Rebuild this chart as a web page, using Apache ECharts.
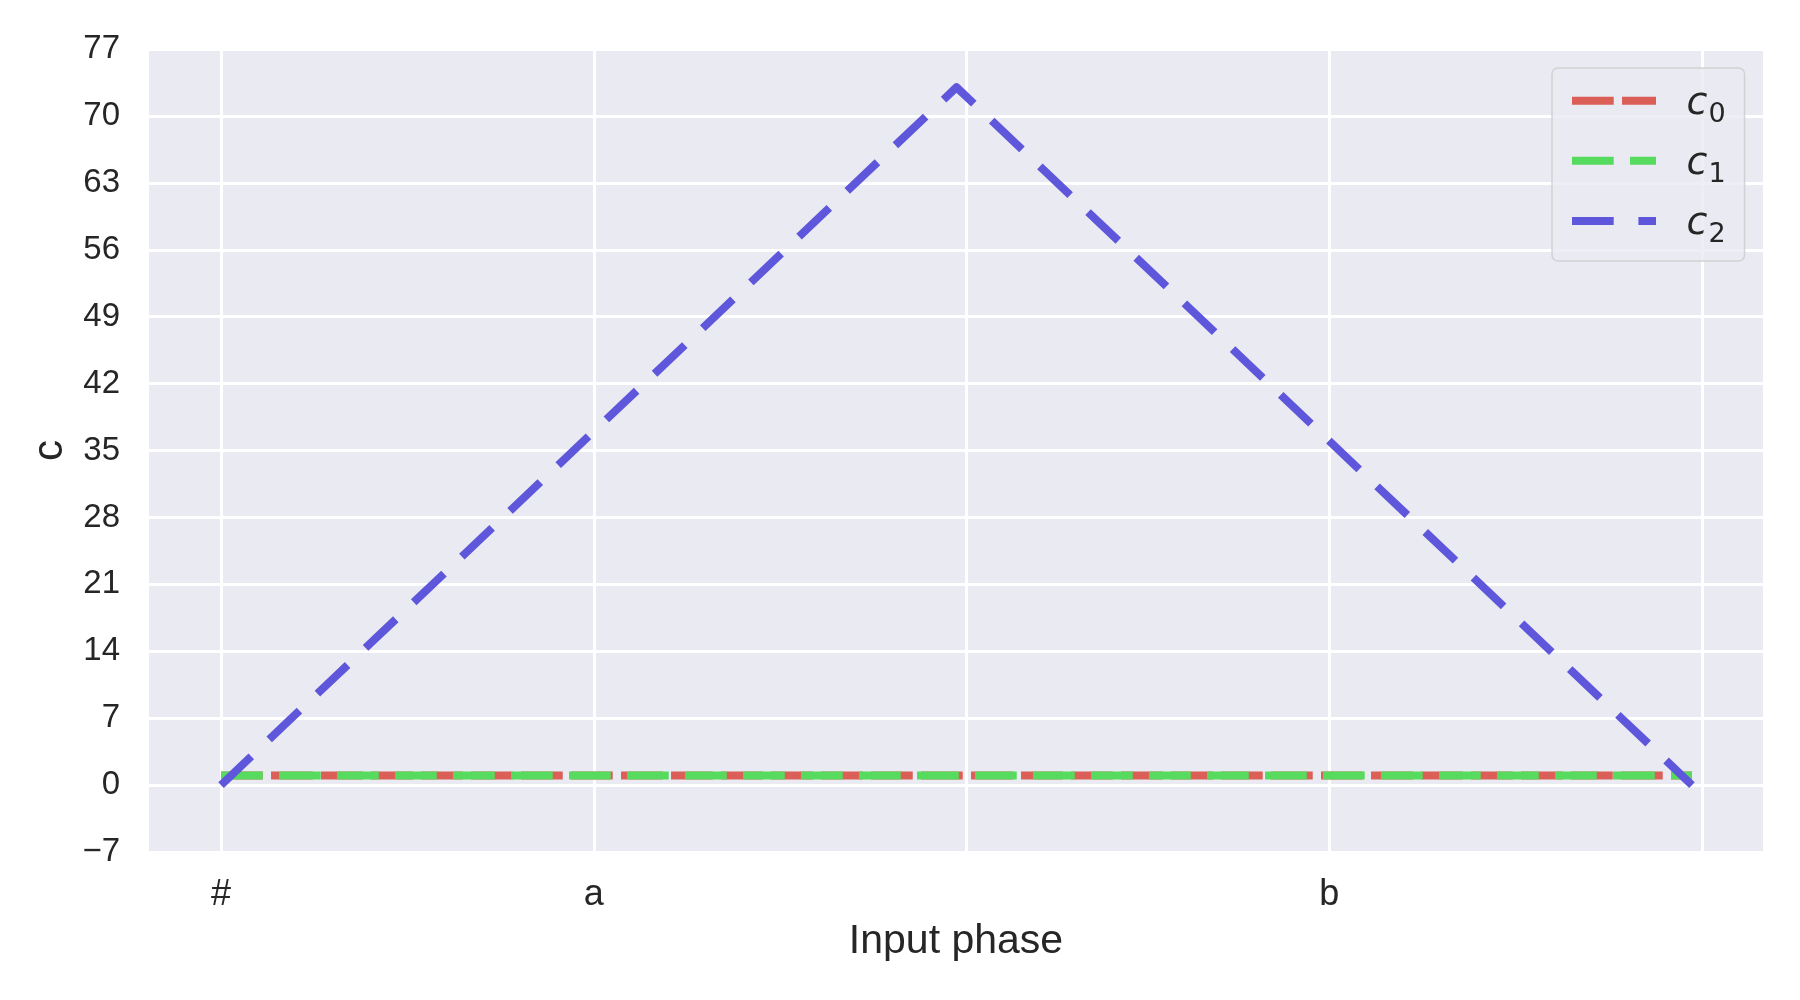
<!DOCTYPE html>
<html lang="en">

<head>
    <meta charset="UTF-8">
    <title>Input phase</title>
    <script src="https://cdn.jsdelivr.net/npm/echarts@6/dist/echarts.min.js"></script>
    <style>
        html, body { margin: 0; padding: 0; background: #fff; }
        #main { width: 1800px; height: 1000px; }
    </style>
</head>

<body>
    <div id="main"></div>
    <script>
        // data (line corners only, the lines are straight between them)
        var xValues = [0, 73, 146];
        var c0 = [1, 1, 1];
        var c1 = [1, 1, 1];
        var c2 = [0, 73, 0];

        var xTickValues = [0, 37, 74, 110, 147];
        var xTickLabels = ['#', 'a', '', 'b', ''];
        var seriesNames = ['c0', 'c1', 'c2'];
        var colors = ['#db5e57', '#57db5e', '#5e57db'];
        var dashes = [[41.7, 8.3], [41.7, 16.3], [41.7, 24.7]];

        var txt = '#262626';
        var fontName = "'Liberation Sans', Arial, sans-serif";

        function pairs(ys) {
            return xValues.map(function (x, i) {
                return [x, ys[i]];
            });
        }

        var myChart = echarts.init(document.getElementById('main'), null, { renderer: 'canvas' });

        var allData = [c0, c1, c2];
        var series = seriesNames.map(function (name, i) {
            return {
                name: name,
                type: 'line',
                data: pairs(allData[i]),
                symbol: 'none',
                z: 3 + i,
                color: colors[i],
                lineStyle: {
                    color: colors[i],
                    width: 8,
                    type: dashes[i],
                    cap: 'butt',
                    join: 'round'
                },
                emphasis: { disabled: true },
                animation: false
            };
        });

        var option = {
            backgroundColor: '#ffffff',
            animation: false,
            grid: {
                left: 149,
                right: 37,
                top: 49,
                bottom: 148,
                show: true,
                backgroundColor: '#eaeaf2',
                borderWidth: 0,
                containLabel: false
            },
            xAxis: {
                type: 'value',
                min: -7.15,
                max: 153.05,
                name: 'Input phase',
                nameLocation: 'middle',
                nameGap: 69,
                nameTextStyle: { color: txt, fontSize: 41, fontFamily: fontName },
                axisLine: { show: false },
                axisTick: { show: false, customValues: xTickValues },
                axisLabel: {
                    customValues: xTickValues,
                    margin: 25,
                    color: txt,
                    fontSize: 36,
                    fontFamily: fontName,
                    formatter: function (v) {
                        var k = xTickValues.indexOf(v);
                        return k >= 0 ? xTickLabels[k] : '';
                    }
                },
                splitLine: { show: true, lineStyle: { color: '#ffffff', width: 3 } }
            },
            yAxis: {
                type: 'value',
                min: -7,
                max: 77,
                interval: 7,
                name: 'c',
                nameLocation: 'middle',
                nameGap: 70,
                nameRotate: 90,
                nameTextStyle: { color: txt, fontSize: 42, fontFamily: fontName },
                axisLine: { show: false },
                axisTick: { show: false },
                axisLabel: {
                    margin: 29,
                    color: txt,
                    fontSize: 33,
                    fontFamily: fontName,
                    formatter: function (v) {
                        return String(v).replace('-', '\u2212');
                    }
                },
                splitLine: { show: true, lineStyle: { color: '#ffffff', width: 3 } }
            },
            legend: {
                orient: 'vertical',
                left: 1552,
                top: 68,
                padding: [16.3, 19, 12.6, 16],
                itemWidth: 84,
                itemHeight: 41,
                itemGap: 16.2,
                backgroundColor: 'rgba(234,234,242,0.8)',
                borderColor: 'rgba(204,204,204,0.8)',
                borderWidth: 1.5,
                borderRadius: 6,
                itemStyle: { color: 'transparent', borderWidth: 0, opacity: 0 },
                lineStyle: { width: 8 },
                selectedMode: false,
                data: seriesNames,
                formatter: function (name) {
                    return '{c|c}{s|' + name.slice(1) + '}';
                },
                textStyle: {
                    color: txt,
                    rich: {
                        c: {
                            fontFamily: "'DejaVu Sans'",
                            fontStyle: 'italic',
                            fontSize: 38,
                            color: txt,
                            padding: [7, 0, 0, 25.5]
                        },
                        s: {
                            fontFamily: "'DejaVu Sans'",
                            fontSize: 27,
                            color: txt,
                            padding: [28, 0, 0, 1]
                        }
                    }
                }
            },
            series: series
        };

        myChart.setOption(option);
    </script>
</body>

</html>
